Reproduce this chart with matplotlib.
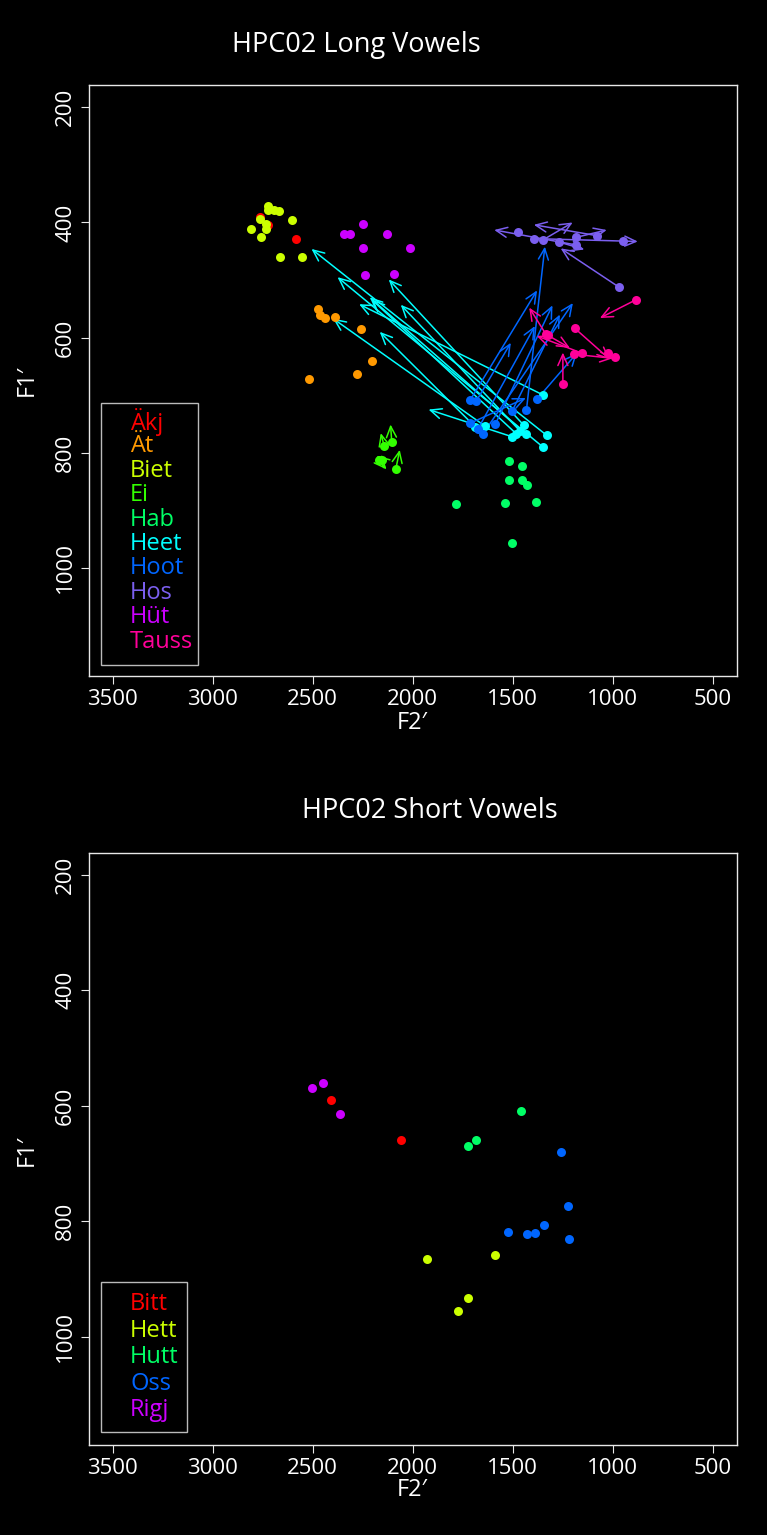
import numpy as np
import matplotlib.pyplot as plt
from matplotlib.patches import Rectangle, FancyArrowPatch

plt.rcParams['font.family'] = ['Open Sans', 'DejaVu Sans']

# ---- long vowels: static tokens (F2, F1)
akj_f2 = [2765, 2721, 2583]
akj_f1 = [390, 405, 428]
at_f2 = [2475, 2465, 2438, 2388, 2258, 2203, 2278, 2516]
at_f1 = [550, 561, 566, 564, 585, 641, 664, 672]
biet_f2 = [2725, 2725, 2693, 2668, 2605, 2765, 2731, 2810, 2735, 2758, 2661, 2553]
biet_f1 = [372, 379, 378, 380, 395, 394, 402, 411, 411, 425, 460, 460]
hab_f2 = [1518, 1455, 1521, 1455, 1430, 1783, 1541, 1383, 1506]
hab_f1 = [815, 823, 848, 847, 856, 889, 887, 886, 957]
hut_f2 = [2248, 2343, 2316, 2131, 2248, 2015, 2238, 2095]
hut_f1 = [402, 420, 420, 420, 444, 444, 492, 489]

# ---- long vowels: onset -> offset tokens (None = no movement drawn)
ei_on_f2 = [2105, 2143, 2171, 2155, 2085]
ei_on_f1 = [781, 788, 813, 812, 829]
ei_off_f2 = [2111, 2160, 2131, 2180, 2065]
ei_off_f1 = [751, 766, 829, 805, 795]

heet_on_f2 = [1347, 1330, 1350, 1435, 1446, 1483, 1506, 1638, 1688, 1465]
heet_on_f1 = [700, 770, 790, 768, 752, 767, 772, 754, 755, 762]
heet_off_f2 = [2268, 2506, 2376, 2215, 2120, 2205, 1921, 2398, 2165, 2060]
heet_off_f1 = [542, 446, 495, 530, 499, 534, 725, 567, 590, 543]

hoot_on_f2 = [1712, 1682, 1377, 1432, 1504, 1587, 1649, 1715, 1675]
hoot_on_f1 = [708, 710, 706, 726, 728, 750, 767, 749, 759]
hoot_off_f2 = [1379, 1510, 1180, 1340, 1265, 1302, 1200, 1435, 1390]
hoot_off_f1 = [518, 609, 627, 442, 560, 544, 540, 705, 580]

hos_on_f2 = [1475, 1396, 1348, 1268, 1186, 1185, 1078, 950, 971]
hos_on_f1 = [417, 428, 430, 434, 426, 439, 423, 432, 512]
hos_off_f2 = [None, 876, 1201, 1143, 1031, 1593, 1395, None, 1261]
hos_off_f1 = [None, 433, 400, 447, 413, 413, 404, None, 445]

tauss_on_f2 = [883, 1335, 1325, 1190, 1155, 1193, 1023, 991, 1250]
tauss_on_f1 = [534, 594, 596, 584, 627, 629, 626, 634, 680]
tauss_off_f2 = [1065, 1418, 1215, 1015, 1381, 1000, None, None, 1250]
tauss_off_f1 = [566, 548, 618, 638, 597, 636, None, None, 626]

long_labels = ['Äkj', 'Ät', 'Biet', 'Ei', 'Hab', 'Heet', 'Hoot', 'Hos', 'Hüt', 'Tauss']
long_colors = ['#FF0000', '#FF9900', '#CCFF00', '#33FF00', '#00FF66',
               '#00FFFF', '#0066FF', '#7B5FEF', '#CC00FF', '#FF0099']

# ---- short vowels
bitt_f2 = [2410, 2060]
bitt_f1 = [590, 659]
hett_f2 = [1931, 1590, 1723, 1775]
hett_f1 = [865, 859, 934, 955]
hutt_f2 = [1458, 1686, 1726]
hutt_f1 = [609, 660, 670]
oss_f2 = [1261, 1226, 1218, 1345, 1390, 1428, 1525]
oss_f1 = [681, 774, 831, 807, 820, 822, 819]
rigj_f2 = [2505, 2450, 2365]
rigj_f1 = [570, 561, 615]

short_labels = ['Bitt', 'Hett', 'Hutt', 'Oss', 'Rigj']
short_colors = ['#FF0000', '#CCFF00', '#00FF66', '#0066FF', '#CC00FF']

x_ticks = [3500, 3000, 2500, 2000, 1500, 1000, 500]
y_ticks = [200, 400, 600, 800, 1000]

FG = '#E8E8E8'
DOT = 42


def style_axes(ax):
    ax.set_facecolor('black')
    ax.set_xlim(3620, 380)
    ax.set_ylim(1188, 162)
    ax.set_xticks(x_ticks)
    ax.set_yticks(y_ticks)
    for s in ax.spines.values():
        s.set_color(FG)
        s.set_linewidth(1.0)
    ax.tick_params(colors=FG, labelcolor='white', labelsize=16, length=6, width=0.8, pad=3)
    for lab in ax.get_yticklabels():
        lab.set_rotation(90)
        lab.set_va('center')


def draw_arrows(ax, f2a, f1a, f2b, f1b, col):
    ax.scatter(f2a, f1a, s=DOT, color=col, zorder=3, linewidths=0)
    for x0, y0, x1, y1 in zip(f2a, f1a, f2b, f1b):
        if x1 is None:
            continue
        ar = FancyArrowPatch((x0, y0), (x1, y1), arrowstyle='->,head_length=0.4,head_width=0.18',
                             mutation_scale=20, color=col, lw=1.1, shrinkA=0, shrinkB=0, zorder=2)
        ax.add_patch(ar)


def legend_box(ax, labels, colors, x0, x1, y0, y1, tx, ty, step):
    ax.add_patch(Rectangle((x0, y0), x1 - x0, y1 - y0, transform=ax.transAxes,
                           fill=False, ec='#BBBBBB', lw=1.0, zorder=5))
    for i, (lab, c) in enumerate(zip(labels, colors)):
        ax.text(tx, ty - i * step, lab, color=c, fontsize=17, transform=ax.transAxes,
                ha='left', va='center', zorder=6)


fig = plt.figure(figsize=(7.67, 15.35), dpi=100, facecolor='black')
ax1 = fig.add_axes([0.1154, 0.5596, 0.8455, 0.3847])
ax2 = fig.add_axes([0.1154, 0.0586, 0.8455, 0.3857])
style_axes(ax1)
style_axes(ax2)

# top: long vowels
ax1.scatter(akj_f2, akj_f1, s=DOT, color=long_colors[0], zorder=3, linewidths=0)
ax1.scatter(at_f2, at_f1, s=DOT, color=long_colors[1], zorder=3, linewidths=0)
ax1.scatter(biet_f2, biet_f1, s=DOT, color=long_colors[2], zorder=3, linewidths=0)
draw_arrows(ax1, ei_on_f2, ei_on_f1, ei_off_f2, ei_off_f1, long_colors[3])
ax1.scatter(hab_f2, hab_f1, s=DOT, color=long_colors[4], zorder=3, linewidths=0)
draw_arrows(ax1, heet_on_f2, heet_on_f1, heet_off_f2, heet_off_f1, long_colors[5])
draw_arrows(ax1, hoot_on_f2, hoot_on_f1, hoot_off_f2, hoot_off_f1, long_colors[6])
draw_arrows(ax1, hos_on_f2, hos_on_f1, hos_off_f2, hos_off_f1, long_colors[7])
ax1.scatter(hut_f2, hut_f1, s=DOT, color=long_colors[8], zorder=3, linewidths=0)
draw_arrows(ax1, tauss_on_f2, tauss_on_f1, tauss_off_f2, tauss_off_f1, long_colors[9])

legend_box(ax1, long_labels, long_colors, 0.0193, 0.169, 0.0186, 0.462, 0.064, 0.430, 0.0413)

# bottom: short vowels
ax2.scatter(bitt_f2, bitt_f1, s=DOT, color=short_colors[0], zorder=3, linewidths=0)
ax2.scatter(hett_f2, hett_f1, s=DOT, color=short_colors[1], zorder=3, linewidths=0)
ax2.scatter(hutt_f2, hutt_f1, s=DOT, color=short_colors[2], zorder=3, linewidths=0)
ax2.scatter(oss_f2, oss_f1, s=DOT, color=short_colors[3], zorder=3, linewidths=0)
ax2.scatter(rigj_f2, rigj_f1, s=DOT, color=short_colors[4], zorder=3, linewidths=0)

legend_box(ax2, short_labels, short_colors, 0.0193, 0.152, 0.022, 0.275, 0.064, 0.238, 0.0448)

# titles / axis labels
fig.text(356 / 767, 1 - 45 / 1535, 'HPC02 Long Vowels', color='white', fontsize=19.5, ha='center', va='center')
fig.text(430 / 767, 1 - 811 / 1535, 'HPC02 Short Vowels', color='white', fontsize=19.5, ha='center', va='center')
fig.text(0.538, 1 - 723 / 1535, 'F2′', color='white', fontsize=17, ha='center', va='center')
fig.text(0.538, 1 - 1490 / 1535, 'F2′', color='white', fontsize=17, ha='center', va='center')
fig.text(0.035, 0.7524, 'F1′', color='white', fontsize=17, ha='center', va='center', rotation=90)
fig.text(0.035, 0.2508, 'F1′', color='white', fontsize=17, ha='center', va='center', rotation=90)

fig.savefig('out.png', dpi=100, facecolor='black')
